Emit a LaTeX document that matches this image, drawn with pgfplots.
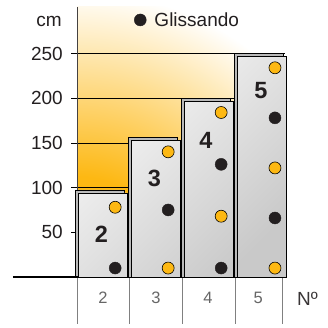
\documentclass[border=0pt]{standalone}
\usepackage{pgfplots}
\pgfplotsset{compat=1.18}
\usepackage{fontspec}
\setmainfont{Liberation Sans}
\definecolor{gold}{RGB}{253,184,19}
\definecolor{txt}{RGB}{35,31,32}
\pgfdeclareradialshading{bgshade}{\pgfpointorigin}{color(0bp)=(gold); color(100bp)=(gold); color(285bp)=(white); color(420bp)=(white)}
\begin{document}
\begin{tikzpicture}
\useasboundingbox (-77pt,-51pt) rectangle (251pt,277pt);
\begin{scope}
\clip (0,0) rectangle (208.3pt,270pt);
\pgftransformshift{\pgfpoint{13pt}{-13pt}}
\pgftransformxscale{0.92}
\pgfuseshading{bgshade}
\end{scope}
\begin{axis}[
  at={(0,0)}, anchor=south west,
  scale only axis, width=208.3pt, height=270pt,
  xmin=1.5, xmax=5.43, ymin=0, ymax=302,
  axis y line*=left, axis x line*=bottom,
  axis line style={-},
  x axis line style={draw=none},
  y axis line style={draw=txt!85, line width=0.8pt},
  ytick={50,100,150,200,250},
  xtick={1.99,2.99,3.97,4.92}, xticklabels={2,3,4,5},
  xtick style={draw=none},
  ytick style={draw=black, line width=0.6pt},
  tick align=outside, major tick length=6pt,
  ymajorgrids, grid style={black, line width=0.6pt},
  /pgf/number format/assume math mode=true,
  yticklabel style={font=\fontsize{19}{19}\selectfont, text=txt, inner sep=0pt, xshift=-8pt},
  xticklabel style={font=\fontsize{16.5}{16.5}\selectfont, text=gray!80!black, anchor=base, inner sep=0pt, yshift=-21pt},
  clip=false,
  legend style={at={(0.274,0.952)}, anchor=west, draw=none, fill=none, inner sep=0pt, outer sep=0pt,
    font=\fontsize{19}{19}\selectfont, text=txt, column sep=8pt, nodes={inner sep=0pt}},
  legend image code/.code={\fill[txt] (6pt,0pt) circle (6pt);},
]
% back panels
\addplot[ybar, bar width=49pt, bar shift=-3.5pt, draw=black, line width=0.6pt, fill=gray!55, forget plot]
  coordinates {(2,97.5) (3,156.5) (4,199.5) (5,250.5)};
% front faces
\addplot[ybar, bar width=49pt, bar shift=-1pt, draw=black, line width=0.8pt,
  top color=gray!5, bottom color=gray!42, shading angle=45, forget plot]
  coordinates {(2,94) (3,153) (4,196) (5,246.5)};
% gold dots
\addplot[only marks, mark=*, mark size=6pt, mark options={fill=gold, draw=black, line width=0.6pt}, forget plot]
  coordinates {(2.22,78) (3.22,140) (3.22,10) (4.22,184) (4.22,68) (5.235,234) (5.235,122) (5.235,10)};
% black dots
\addplot[only marks, mark=*, mark size=6pt, mark options={fill=txt, draw=txt}]
  coordinates {(2.22,10) (3.22,75) (4.22,126) (4.22,10) (5.235,178) (5.235,66)};
\addlegendentry{Glissando}
\node[font=\bfseries\fontsize{23.5}{23.5}\selectfont, text=txt] at (axis cs:1.962,48) {2};
\node[font=\bfseries\fontsize{23.5}{23.5}\selectfont, text=txt] at (axis cs:2.962,110) {3};
\node[font=\bfseries\fontsize{23.5}{23.5}\selectfont, text=txt] at (axis cs:3.934,153) {4};
\node[font=\bfseries\fontsize{23.5}{23.5}\selectfont, text=txt] at (axis cs:4.972,209) {5};
\end{axis}
\node[anchor=base east, inner sep=0pt, font=\fontsize{19}{19}\selectfont, text=txt] at (-15pt,250pt) {cm};
\node[anchor=base west, inner sep=0pt, font=\fontsize{19}{19}\selectfont, text=txt!90] at (220pt,-29pt) {Nº};
\draw[line width=1.8pt, black] (-64pt,0) -- (0.5pt,0);
\foreach \x in {0,52.5,105.5,158.5,205} \draw[gray, line width=0.5pt] (\x pt,-1pt) -- (\x pt,-47pt);
\end{tikzpicture}
\end{document}
